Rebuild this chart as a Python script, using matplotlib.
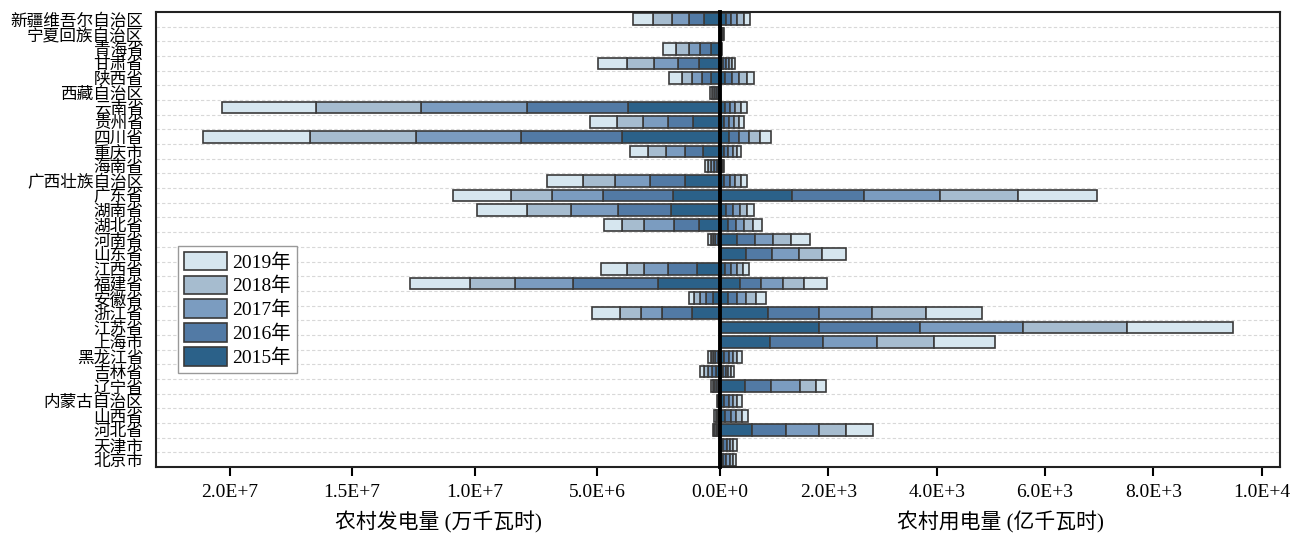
import matplotlib
matplotlib.use('Agg')
import matplotlib.pyplot as plt
import numpy as np
from matplotlib.ticker import FuncFormatter, FixedLocator

plt.rcParams['font.family'] = ['Liberation Serif', 'Noto Sans CJK SC']

# provinces, top to bottom
provinces = ['新疆维吾尔自治区', '宁夏回族自治区', '青海省', '甘肃省', '陕西省', '西藏自治区',
             '云南省', '贵州省', '四川省', '重庆市', '海南省', '广西壮族自治区', '广东省',
             '湖南省', '湖北省', '河南省', '山东省', '江西省', '福建省', '安徽省', '浙江省',
             '江苏省', '上海市', '黑龙江省', '吉林省', '辽宁省', '内蒙古自治区', '山西省',
             '河北省', '天津市', '北京市']
years = ['2015年', '2016年', '2017年', '2018年', '2019年']

# rural generation (万千瓦时)
gen2015 = [640000, 2000, 380000, 850000, 380000, 80000, 3770000, 1090000, 3980000, 680000,
           120000, 1420000, 1900000, 2000000, 870000, 90000, 3000, 950000, 2510000, 300000,
           1150000, 2000, 0, 95000, 160000, 75000, 25000, 45000, 60000, 0, 0]
gen2016 = [640000, 2000, 430000, 880000, 370000, 80000, 4100000, 1040000, 4120000, 750000,
           120000, 1450000, 2890000, 2150000, 1000000, 95000, 3000, 1180000, 3500000, 270000,
           1230000, 2000, 0, 95000, 160000, 75000, 25000, 45000, 60000, 0, 0]
gen2017 = [690000, 2000, 460000, 980000, 390000, 80000, 4320000, 1020000, 4280000, 770000,
           125000, 1410000, 2060000, 1940000, 1210000, 95000, 3000, 960000, 2330000, 260000,
           840000, 2000, 0, 95000, 160000, 75000, 25000, 45000, 60000, 0, 0]
gen2018 = [770000, 2000, 530000, 1090000, 420000, 85000, 4290000, 1060000, 4330000, 720000,
           125000, 1300000, 1690000, 1770000, 920000, 95000, 3000, 710000, 1860000, 240000,
           840000, 2000, 0, 95000, 160000, 75000, 25000, 45000, 60000, 0, 0]
gen2019 = [790000, 2000, 540000, 1180000, 500000, 85000, 3840000, 1110000, 4370000, 730000,
           130000, 1490000, 2360000, 2040000, 720000, 95000, 3000, 1040000, 2460000, 200000,
           1150000, 2000, 0, 95000, 160000, 75000, 25000, 45000, 60000, 0, 0]

# rural electricity consumption (亿千瓦时)
use2015 = [110, 14, 5, 57, 100, 0, 90, 74, 170, 75, 14, 80, 1325, 110, 140, 320, 480, 100,
           370, 150, 895, 1830, 915, 80, 50, 460, 80, 100, 600, 60, 60]
use2016 = [97, 14, 5, 57, 130, 0, 95, 86, 180, 78, 14, 105, 1330, 135, 150, 330, 480, 100,
           390, 160, 935, 1870, 985, 80, 52, 480, 80, 100, 610, 62, 60]
use2017 = [111, 14, 6, 57, 130, 0, 100, 92, 190, 80, 15, 100, 1415, 123, 160, 320, 500, 110,
           400, 170, 970, 1890, 1005, 80, 52, 530, 80, 100, 620, 62, 60]
use2018 = [125, 15, 6, 57, 130, 0, 100, 92, 200, 80, 15, 100, 1440, 123, 160, 340, 420, 120,
           400, 180, 1010, 1930, 1054, 80, 52, 310, 80, 100, 500, 62, 60]
use2019 = [118, 15, 6, 57, 130, 0, 120, 105, 210, 80, 16, 120, 1456, 135, 170, 350, 440, 110,
           420, 190, 1030, 1950, 1110, 80, 52, 180, 80, 120, 500, 62, 60]

colors = ['#2b6189', '#527aa5', '#7b9cc0', '#a6bccf', '#d6e6ef']

gen = [gen2015, gen2016, gen2017, gen2018, gen2019]
use = [use2015, use2016, use2017, use2018, use2019]


def sci(v, pos):
    if v == 0:
        return '0.0E+0'
    e = int(np.floor(np.log10(abs(v)) + 1e-9))
    return f'{v / 10 ** e:.1f}E+{e}'


fig = plt.figure(figsize=(12.9, 5.35), dpi=100)
ax1 = fig.add_axes([156 / 1290, 1 - 467 / 535, 564 / 1290, 455 / 535])
ax2 = fig.add_axes([720 / 1290, 1 - 467 / 535, 560 / 1290, 455 / 535])

y = np.arange(len(provinces))
bar_kw = dict(height=0.8, edgecolor='#3a3a3a', linewidth=1.2, zorder=2)

left = np.zeros(len(provinces))
handles = []
for vals, c, lab in zip(gen, colors, years):
    h = ax1.barh(y, vals, left=left, color=c, label=lab, **bar_kw)
    handles.append(h)
    left += np.array(vals)

left = np.zeros(len(provinces))
for vals, c in zip(use, colors):
    ax2.barh(y, vals, left=left, color=c, **bar_kw)
    left += np.array(vals)

ax1.set_xlim(2.3e7, 0)
ax2.set_xlim(0, 1.034e4)
for ax in (ax1, ax2):
    ax.set_ylim(len(provinces) - 0.5, -0.5)
    ax.yaxis.set_minor_locator(FixedLocator(np.arange(len(provinces)) + 0.5))
    ax.grid(axis='y', which='minor', linestyle=(0, (3, 2)), color='#d8d8d8', linewidth=0.8)
    ax.set_axisbelow(True)
    ax.xaxis.set_major_formatter(FuncFormatter(sci))
    ax.tick_params(axis='x', which='major', direction='out', length=6.5, width=1.5,
                   labelsize=14, pad=6)
    ax.tick_params(axis='y', which='both', length=0)
    for s in ax.spines.values():
        s.set_linewidth(1.5)
        s.set_color('#222222')

ax1.set_xticks([2e7, 1.5e7, 1e7, 5e6, 0])
ax2.set_xticks([2e3, 4e3, 6e3, 8e3, 1e4])

ax1.set_yticks(y)
ax1.set_yticklabels(provinces, fontsize=12)
ax1.tick_params(axis='y', pad=9)
ax2.set_yticks([])

ax1.spines['right'].set_visible(False)
ax2.spines['left'].set_linewidth(2.8)
ax2.spines['left'].set_color('black')
ax2.spines['left'].set_zorder(5)

ax1.set_xlabel('农村发电量 (万千瓦时)', fontsize=15, labelpad=7)
ax2.set_xlabel('农村用电量 (亿千瓦时)', fontsize=15, labelpad=7)

leg = ax1.legend(handles[::-1], years[::-1], loc='upper left',
                 bbox_to_anchor=(0.039, 0.486), borderaxespad=0, fontsize=14,
                 handlelength=2.2, handleheight=1.1, labelspacing=0.2,
                 handletextpad=0.3, borderpad=0.3, fancybox=False, framealpha=1,
                 edgecolor='#999999')
leg.get_frame().set_linewidth(1.0)

fig.savefig('out.png', dpi=100)
